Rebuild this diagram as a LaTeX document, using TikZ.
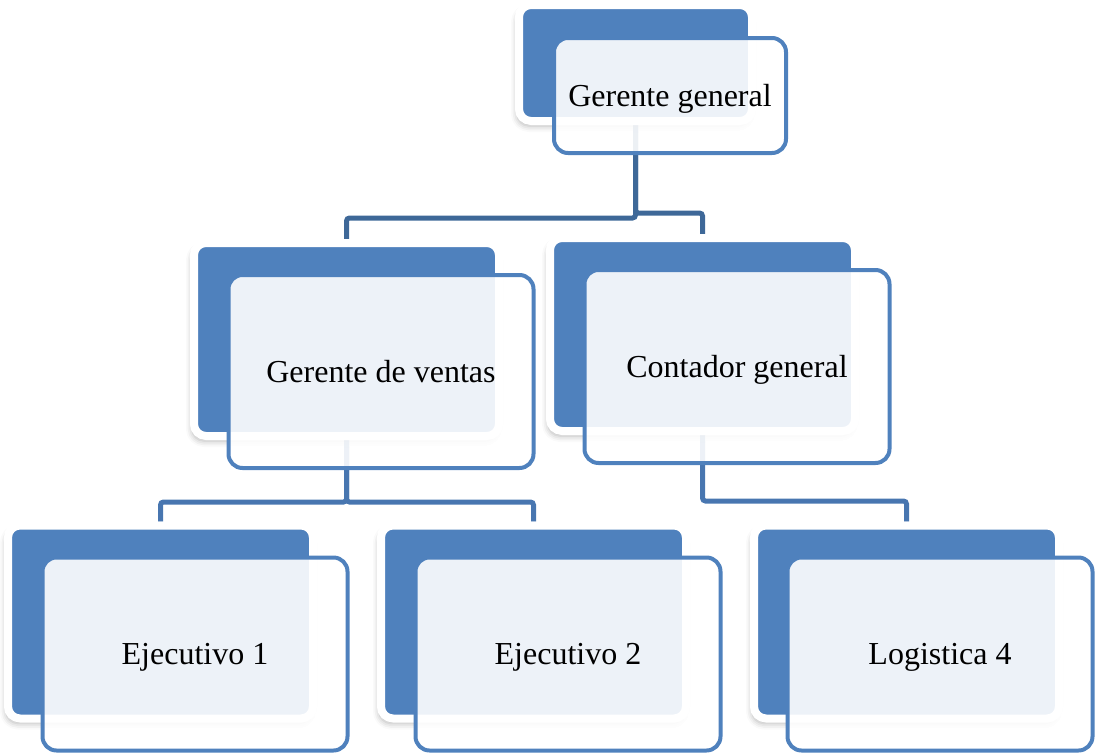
\documentclass[tikz,border=0pt]{standalone}
\usepackage{fontspec}
\setmainfont{Liberation Serif}
\usetikzlibrary{shadows.blur,backgrounds}
\definecolor{accent}{RGB}{79,129,189}
\definecolor{lineA}{RGB}{62,104,152}
\definecolor{lineB}{RGB}{72,118,176}
\begin{document}
\begin{tikzpicture}[x=1pt,y=-1pt,
  backbox/.style={draw=white, line width=8pt, fill=accent, rounded corners=12pt,
    minimum width=305pt, minimum height=193pt, inner sep=0pt,
    blur shadow={shadow xshift=-2pt, shadow yshift=-5pt, shadow blur radius=6pt, shadow opacity=30}},
  frontbox/.style={draw=accent, line width=4pt, fill=white, fill opacity=0.9, text opacity=1,
    rounded corners=14pt, minimum width=305pt, minimum height=193pt, inner sep=0pt,
    font=\fontsize{32}{38}\selectfont, text height=21pt, text depth=0pt},
  small/.style={minimum width=233pt, minimum height=116pt},
  smallf/.style={minimum width=232pt, minimum height=115pt},
  connA/.style={draw=lineA, line width=5pt, rounded corners=3pt},
  connB/.style={draw=lineB, line width=5pt, rounded corners=3pt}
]
\useasboundingbox (0,0) rectangle (1097,755);
% top
\node[backbox, small] (ggb) at (635.5,63) {};
\node[frontbox, smallf] (gg) at (670,95.5) {Gerente general};
% middle
\node[backbox] (gvb) at (346.5,339.5) {};
\node[frontbox] (gv) at (381,371.5) {Gerente de ventas};
\node[backbox] (cgb) at (702.5,334.5) {};
\node[frontbox] (cg) at (737,366.5) {Contador general};
% bottom
\node[backbox] (e1b) at (160.5,622) {};
\node[frontbox] (e1) at (195,654) {Ejecutivo 1};
\node[backbox] (e2b) at (533.5,622) {};
\node[frontbox] (e2) at (568,654) {Ejecutivo 2};
\node[backbox] (l4b) at (906.5,622) {};
\node[frontbox] (l4) at (940,654) {Logistica 4};
% connectors
\begin{scope}[on background layer]
\draw[connA] (ggb.south) -- ++(0,93) -| (gvb.north);
\draw[connA] (ggb.south) -- ++(0,88) -| (cgb.north);
\draw[connB] (gvb.south) -- ++(0,62) -| (e1b.north);
\draw[connB] (gvb.south) -- ++(0,62) -| (e2b.north);
\draw[connB] (cgb.south) -- ++(0,66) -| (l4b.north);
\end{scope}
\end{tikzpicture}
\end{document}
